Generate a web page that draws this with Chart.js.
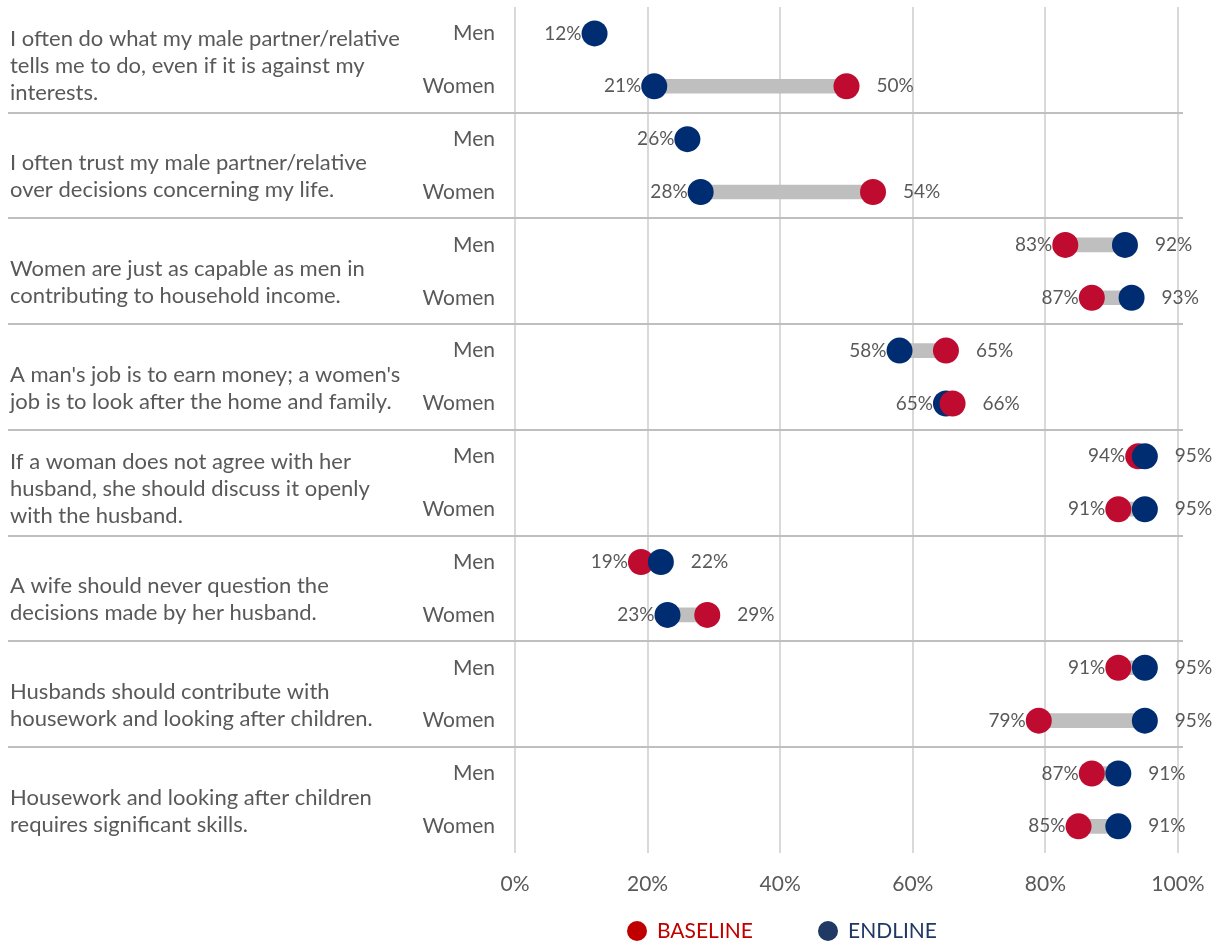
<!DOCTYPE html>
<html>
<head>
<meta charset="utf-8">
<script src="https://cdn.jsdelivr.net/npm/chart.js@4"></script>
<style>
    html, body { margin: 0; padding: 0; background: #fff; }
    #wrap { width: 1220px; height: 945px; position: relative; }
</style>
</head>
<body>
<div id="wrap"><canvas id="chart"></canvas></div>
<script>
(function () {
    'use strict';

    var statements = [
        ['I often do what my male partner/relative', 'tells me to do, even if it is against my', 'interests.'],
        ['I often trust my male partner/relative', 'over decisions concerning my life.'],
        ['Women are just as capable as men in', 'contributing to household income.'],
        ['A man\'s job is to earn money; a women\'s', 'job is to look after the home and family.'],
        ['If a woman does not agree with her', 'husband, she should discuss it openly', 'with the husband.'],
        ['A wife should never question the', 'decisions made by her husband.'],
        ['Husbands should contribute with', 'housework and looking after children.'],
        ['Housework and looking after children', 'requires significant skills.']
    ];
    var groups = ['Men', 'Women'];

    // one value per row: statement 1 Men, statement 1 Women, statement 2 Men ...
    var baseline = [null, 50, null, 54, 83, 87, 65, 66, 94, 91, 19, 29, 91, 79, 87, 85];
    var endline  = [12, 21, 26, 28, 92, 93, 58, 65, 95, 95, 22, 23, 95, 95, 91, 91];

    var xTicks = [0, 20, 40, 60, 80, 100];
    var legendNames = ['BASELINE', 'ENDLINE'];

    var RED = '#BE0B2F';
    var BLUE = '#002D72';
    var GREY_TXT = '#595959';
    var FONT = 'Lato, "Open Sans", sans-serif';

    var labels = [];
    statements.forEach(function () { labels.push(groups[0], groups[1]); });

    // low / high points so that the larger value is drawn on top
    var low = [], high = [], lowColor = [], highColor = [], spans = [];
    for (var i = 0; i < labels.length; i++) {
        var b = baseline[i], e = endline[i];
        if (b === null || e === null) {
            low.push(b === null ? e : b); high.push(null);
            lowColor.push(b === null ? BLUE : RED); highColor.push(BLUE);
            spans.push(null);
        } else if (b <= e) {
            low.push(b); high.push(e);
            lowColor.push(RED); highColor.push(BLUE);
            spans.push([b, e]);
        } else {
            low.push(e); high.push(b);
            lowColor.push(BLUE); highColor.push(RED);
            spans.push([e, b]);
        }
    }

    /* ---- statements, separators, value labels, legend ---- */
    var extras = {
        id: 'extras',
        afterDatasetsDraw: function (chart) {
            var ctx = chart.ctx;
            var x = chart.scales.x, y = chart.scales.y;
            var band = (y.getPixelForValue(1) - y.getPixelForValue(0));
            ctx.save();

            // group separators
            ctx.strokeStyle = '#BFBFBF';
            ctx.lineWidth = 2;
            for (var g = 1; g < statements.length; g++) {
                var sy = Math.round(y.getPixelForValue(g * 2) - band / 2);
                ctx.beginPath();
                ctx.moveTo(8, sy);
                ctx.lineTo(x.right + 5, sy);
                ctx.stroke();
            }

            // statement text
            ctx.fillStyle = GREY_TXT;
            ctx.font = '22px ' + FONT;
            ctx.textAlign = 'left';
            ctx.textBaseline = 'middle';
            var lh = 27;
            statements.forEach(function (lines, gi) {
                var shift = lines.length > 2 ? 6 : 11;
                var cy = (y.getPixelForValue(gi * 2) + y.getPixelForValue(gi * 2 + 1)) / 2 + shift;
                var top = cy - (lines.length - 1) * lh / 2;
                lines.forEach(function (t, li) {
                    ctx.fillText(t, 10, top + li * lh);
                });
            });

            // value labels
            ctx.font = '19px ' + FONT;
            for (var r = 0; r < labels.length; r++) {
                var py = y.getPixelForValue(r);
                ctx.textAlign = 'right';
                ctx.fillText(low[r] + '%', x.getPixelForValue(low[r]) - 13, py);
                if (high[r] !== null) {
                    ctx.textAlign = 'left';
                    ctx.fillText(high[r] + '%', x.getPixelForValue(high[r]) + 30, py);
                }
            }

            // legend
            var legendColors = ['#C00000', '#1F3864'];
            var lx = 637, ly = 931;
            ctx.font = '21px ' + FONT;
            ctx.textAlign = 'left';
            legendNames.forEach(function (name, li) {
                ctx.fillStyle = legendColors[li];
                ctx.beginPath();
                ctx.arc(lx, ly, 10, 0, Math.PI * 2);
                ctx.fill();
                ctx.fillText(name, lx + 20, ly);
                lx += 191;
            });
            ctx.restore();
        }
    };

    new Chart(document.getElementById('chart'), {
        data: {
            labels: labels,
            datasets: [
                {
                    type: 'bar',
                    label: 'span',
                    data: spans,
                    backgroundColor: '#BFBFBF',
                    barThickness: 14,
                    order: 3
                },
                {
                    type: 'line',
                    label: 'low',
                    data: low,
                    showLine: false,
                    pointRadius: 13,
                    pointHoverRadius: 13,
                    pointBorderWidth: 0,
                    pointBackgroundColor: lowColor,
                    order: 2
                },
                {
                    type: 'line',
                    label: 'high',
                    data: high,
                    showLine: false,
                    pointRadius: 13,
                    pointHoverRadius: 13,
                    pointBorderWidth: 0,
                    pointBackgroundColor: highColor,
                    order: 1
                }
            ]
        },
        options: {
            indexAxis: 'y',
            responsive: true,
            maintainAspectRatio: false,
            animation: false,
            layout: { autoPadding: false, padding: { top: 7, right: 42, bottom: 29, left: 0 } },
            plugins: {
                tooltip: { enabled: false },
                legend: { display: false }
            },
            scales: {
                x: {
                    type: 'linear',
                    min: 0,
                    max: 100,
                    afterBuildTicks: function (s) {
                        s.ticks = xTicks.map(function (v) { return { value: v }; });
                    },
                    afterFit: function (s) {
                        s.paddingLeft = 0;
                        s.paddingRight = 0;
                    },
                    ticks: {
                        color: GREY_TXT,
                        font: { family: FONT, size: 21 },
                        padding: 19,
                        callback: function (v) { return v + '%'; }
                    },
                    grid: { color: '#D9D9D9', lineWidth: 2, drawTicks: false },
                    border: { display: false }
                },
                y: {
                    type: 'category',
                    offset: true,
                    afterFit: function (s) {
                        s.width = 515;
                        s.paddingTop = 0;
                        s.paddingBottom = 0;
                    },
                    ticks: {
                        color: GREY_TXT,
                        font: { family: FONT, size: 21 },
                        padding: 20
                    },
                    grid: { display: false, drawTicks: false },
                    border: { display: false }
                }
            }
        },
        plugins: [extras]
    });
})();
</script>
</body>
</html>
